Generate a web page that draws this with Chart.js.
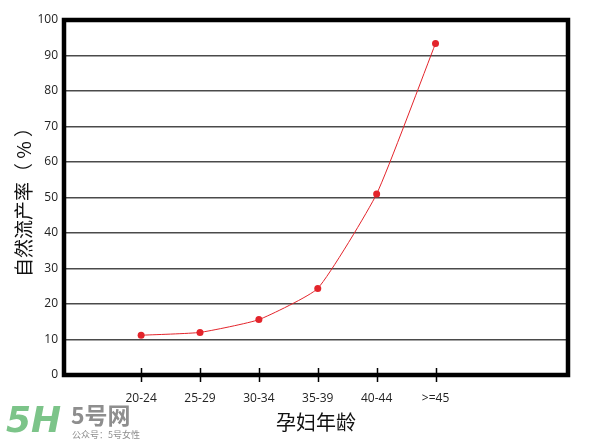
<!DOCTYPE html>
<html>
<head>
<meta charset="utf-8">
<script src="https://cdn.jsdelivr.net/npm/chart.js@4/dist/chart.umd.min.js"></script>
<style>
  html, body { margin: 0; padding: 0; background: #fff; }
  #wrap { width: 600px; height: 445px; position: relative; }
</style>
</head>
<body>
<div id="wrap"><canvas id="chart"></canvas></div>
<script>
// age groups on the x axis
const ageGroups = ['20-24', '25-29', '30-34', '35-39', '40-44', '>=45'];
// miscarriage rate in percent
const rates = [11.2, 12.0, 15.6, 24.4, 51, 93.4];
// y axis ticks
const yTicks = [0, 10, 20, 30, 40, 50, 60, 70, 80, 90, 100];

const FONT = "'Open Sans', 'Noto Sans CJK SC', sans-serif";
const CJK = "'Noto Sans CJK SC', sans-serif";

// Frame around the plot and the small ticks crossing the bottom border
const framePlugin = {
    id: 'frame',
    afterDatasetsDraw(chart) {
        const { ctx, chartArea: a, scales } = chart;
        ctx.save();
        ctx.strokeStyle = '#000';
        ctx.lineWidth = 1.5;
        ageGroups.forEach((g, i) => {
            const x = Math.round(scales.x.getPixelForValue(i)) + 0.5;
            ctx.beginPath();
            ctx.moveTo(x, a.bottom - 7);
            ctx.lineTo(x, a.bottom + 7);
            ctx.stroke();
        });
        ctx.lineWidth = 4.5;
        ctx.strokeRect(a.left, a.top, a.right - a.left, a.bottom - a.top);
        ctx.restore();
    }
};

// Site watermark in the lower left corner
const watermarkPlugin = {
    id: 'watermark',
    afterDraw(chart) {
        const ctx = chart.ctx;
        ctx.save();
        ctx.fillStyle = '#7cc489';
        ctx.font = "italic bold 36px 'DejaVu Sans', sans-serif";
        ctx.textBaseline = 'alphabetic';
        ctx.fillText('5H', 6, 432);
        ctx.fillStyle = '#8e8e8e';
        ctx.font = "bold 23px " + CJK;
        ctx.fillText('5号网', 71, 424);
        ctx.font = "9px " + CJK;
        ctx.fillText('公众号：5号女性', 72, 438);
        ctx.restore();
    }
};

const ctx = document.getElementById('chart').getContext('2d');
new Chart(ctx, {
    type: 'line',
    data: {
        datasets: [{
            data: rates.map((v, i) => ({ x: i, y: v })),
            borderColor: '#e3242b',
            backgroundColor: '#e3242b',
            borderWidth: 1,
            pointRadius: 3.5,
            pointBorderWidth: 0,
            tension: 0.15,
            fill: false
        }]
    },
    options: {
        responsive: true,
        maintainAspectRatio: false,
        animation: false,
        layout: { padding: { left: 0, right: 32, top: 20, bottom: 0 } },
        plugins: {
            legend: { display: false },
            tooltip: { enabled: false }
        },
        scales: {
            x: {
                type: 'linear',
                min: -1.31,
                max: 7.25,
                afterFit(scale) { scale.height = 70; },
                afterBuildTicks(scale) {
                    scale.ticks = ageGroups.map((g, i) => ({ value: i }));
                },
                ticks: {
                    autoSkip: false,
                    maxRotation: 0,
                    padding: 8,
                    color: '#222',
                    font: { family: FONT, size: 12 },
                    callback: v => ageGroups[v]
                },
                grid: { display: false },
                border: { display: false },
                title: {
                    display: true,
                    text: '孕妇年龄',
                    color: '#111',
                    font: { family: CJK, size: 20 },
                    padding: { top: 0, bottom: 11 }
                }
            },
            y: {
                min: 0,
                max: 100,
                afterFit(scale) { scale.width = 64; },
                afterBuildTicks(scale) {
                    scale.ticks = yTicks.map(v => ({ value: v }));
                },
                ticks: {
                    padding: 6,
                    color: '#222',
                    font: { family: FONT, size: 12 }
                },
                grid: {
                    color: '#4a4a4a',
                    lineWidth: 1.5,
                    drawTicks: false
                },
                border: { display: false },
                title: {
                    display: true,
                    text: '自然流产率（ % ）',
                    color: '#111',
                    font: { family: CJK, size: 19 },
                    padding: { top: 12, bottom: 0 }
                }
            }
        }
    },
    plugins: [framePlugin, watermarkPlugin]
});
</script>
</body>
</html>
